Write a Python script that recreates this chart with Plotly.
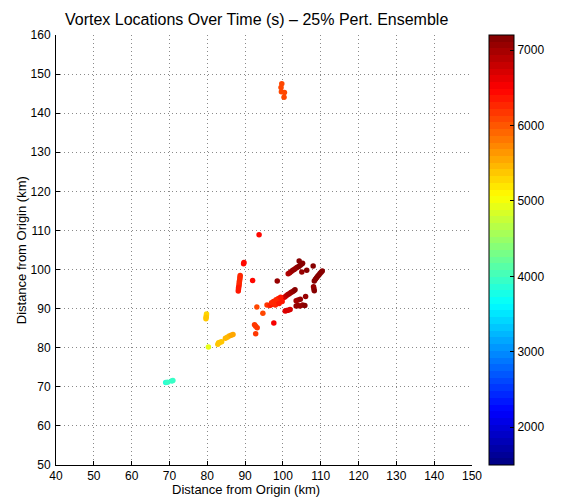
import plotly.graph_objects as go

# ---- data (km, km, seconds) ----
x_km = [
    69.0, 69.5, 70.6, 70.9,
    80.3,
    79.8, 79.75, 79.7, 79.65,
    82.8, 83.0, 83.4, 83.8, 84.8, 85.3, 85.8, 86.3, 86.8,
    99.7, 99.5, 99.6, 100.4, 100.3,
    88.7, 88.65, 88.6, 88.5, 88.45, 88.4, 88.3, 88.25, 88.2,
    89.6, 89.7, 92.0, 93.7,
    93.1, 95.8, 94.7,
    92.5, 92.8, 93.2, 92.8,
    97.6,
    96.5, 96.9, 97.3, 97.7, 98.1, 98.5, 98.9, 99.3, 99.7, 100.1, 100.5, 100.9, 101.3, 101.7, 102.1, 102.5, 102.9, 103.2,
    97.5, 98.2, 98.8, 99.4, 98.0, 99.0, 97.0, 99.8,
    100.6, 101.0, 101.4, 101.9,
    98.5,
    101.4, 101.8, 102.2, 102.6, 103.0, 103.4, 103.8, 104.2, 104.6, 105.0, 105.2,
    104.3, 105.0, 106.3, 108.0,
    108.3, 108.6, 108.9, 109.2, 109.5, 109.8, 110.1, 110.4,
    108.1, 108.2, 108.3,
    106.0,
    103.5, 104.0, 104.6,
    103.5, 103.9, 104.5, 105.2, 105.8,
]
y_km = [
    71.1, 71.2, 71.5, 71.6,
    80.2,
    88.6, 88.2, 87.8, 87.4,
    80.9, 81.3, 81.4, 81.5, 82.4, 82.7, 83.0, 83.2, 83.4,
    147.5, 146.6, 145.5, 145.3, 144.1,
    98.5, 98.0, 97.5, 97.0, 96.5, 96.0, 95.5, 95.0, 94.5,
    101.5, 101.8, 97.2, 108.9,
    90.4, 90.9, 88.8,
    85.9, 85.5, 85.1, 83.6,
    86.3,
    90.8, 91.0, 91.2, 91.5, 91.7, 91.9, 92.1, 92.3, 92.5, 92.8, 93.0, 93.3, 93.6, 93.8, 94.1, 94.3, 94.6, 94.8,
    91.8, 92.3, 92.6, 92.9, 90.9, 91.3, 91.5, 91.8,
    89.4, 89.5, 89.6, 89.8,
    97.1,
    98.9, 99.2, 99.5, 99.8, 100.0, 100.3, 100.6, 100.8, 101.1, 101.4, 101.6,
    102.2, 99.4, 99.8, 100.9,
    97.1, 97.5, 97.9, 98.3, 98.6, 99.0, 99.3, 99.6,
    95.6, 95.1, 94.6,
    93.1,
    92.0, 92.2, 92.4,
    90.7, 90.8, 90.7, 90.9, 90.8,
]
t_s = [
    3900, 3910, 3950, 3960,
    4900,
    5300, 5320, 5340, 5360,
    5350, 5370, 5390, 5400, 5450, 5470, 5490, 5510, 5530,
    6050, 6070, 6090, 6100, 6120,
    6250, 6260, 6270, 6280, 6290, 6300, 6310, 6320, 6330,
    6400, 6420, 6450, 6450,
    6100, 6150, 6050,
    6150, 6170, 6180, 6200,
    6500,
    6300, 6320, 6350, 6380, 6400, 6430, 6450, 6480, 6520, 6600, 6700, 6800, 6880, 6950, 7000, 7050, 7100, 7150,
    6250, 6270, 6300, 6330, 6260, 6320, 6240, 6350,
    6650, 6680, 6700, 6720,
    7100,
    6900, 6950, 7000, 7030, 7060, 7080, 7100, 7120, 7140, 7150, 7160,
    7150, 7100, 7150, 7150,
    7150, 7160, 7170, 7180, 7185, 7190, 7195, 7200,
    7100, 7110, 7120,
    7100,
    7000, 7020, 7040,
    7080, 7090, 7100, 7110, 7120,
]

x_ticks = list(range(40, 151, 10))
y_ticks = list(range(50, 161, 10))
cbar_ticks = [2000, 3000, 4000, 5000, 6000, 7000]
t_min, t_max = 1500, 7200

# ---- MATLAB-like stepped jet colormap (64 levels) ----
def jet_rgb(v):
    def ch(c):
        return max(0.0, min(1.0, 1.5 - abs(4 * v - c)))
    return (ch(3), ch(2), ch(1))

n = 64
cscale = []
for i in range(n):
    r, g, b = jet_rgb((i + 0.5) / n)
    col = f"rgb({int(r*255)},{int(g*255)},{int(b*255)})"
    cscale.append([i / n, col])
    cscale.append([(i + 1) / n, col])

font = "Liberation Sans, Arial, Helvetica, sans-serif"

fig = go.Figure()
fig.add_trace(go.Scatter(
    x=x_km, y=y_km, mode="markers",
    marker=dict(
        size=5.5, color=t_s, colorscale=cscale, cmin=t_min, cmax=t_max,
        line=dict(width=0),
        colorbar=dict(
            thickness=25, len=1.0, lenmode="fraction", y=0.5, yanchor="middle",
            x=1.0418, xanchor="left", xpad=0, ypad=0,
            outlinecolor="black", outlinewidth=1,
            tickvals=cbar_ticks, ticks="inside", ticklen=4, tickcolor="black",
            tickfont=dict(family=font, size=12, color="black"),
        ),
    ),
    showlegend=False,
    hoverinfo="skip",
))

axis_common = dict(
    showline=True, linecolor="black", linewidth=1,
    ticks="inside", ticklen=4, tickcolor="black",
    showgrid=True, gridcolor="#8a8a8a", gridwidth=1, griddash="1px,3px",
    zeroline=False, mirror=False,
    tickfont=dict(family=font, size=12, color="black"),
)

fig.update_xaxes(range=[40, 150], tickvals=x_ticks, **axis_common)
fig.update_yaxes(range=[50, 160], tickvals=y_ticks, ticklabelstandoff=2, **axis_common)

# annotation pixel positions -> paper coords
L, R, T, B = 56, 75, 35, 39
pw, ph = 562 - L - R, 504 - T - B


def px_to_paper(px, py):
    return (px - L) / pw, (504 - B - py) / ph


tx, ty = px_to_paper(264, 20)
xx, xy = px_to_paper(253, 489)
yx, yy = px_to_paper(20, 250)

fig.update_layout(
    width=562, height=504,
    margin=dict(l=L, r=R, t=T, b=B),
    paper_bgcolor="white", plot_bgcolor="white",
    font=dict(family=font, color="black"),
    annotations=[
        dict(text="Vortex Locations Over Time (s) \u2013 25% Pert. Ensemble",
             x=tx, y=ty, xref="paper", yref="paper", showarrow=False,
             font=dict(size=16, family=font, color="black"),
             xanchor="center", yanchor="middle"),
        dict(text="Distance from Origin (km)",
             x=xx, y=xy, xref="paper", yref="paper", showarrow=False,
             font=dict(size=13, family=font, color="black"),
             xanchor="center", yanchor="middle"),
        dict(text="Distance from Origin (km)",
             x=yx, y=yy, xref="paper", yref="paper", showarrow=False,
             textangle=-90, font=dict(size=13, family=font, color="black"),
             xanchor="center", yanchor="middle"),
    ],
)

fig.write_html("out.html")
